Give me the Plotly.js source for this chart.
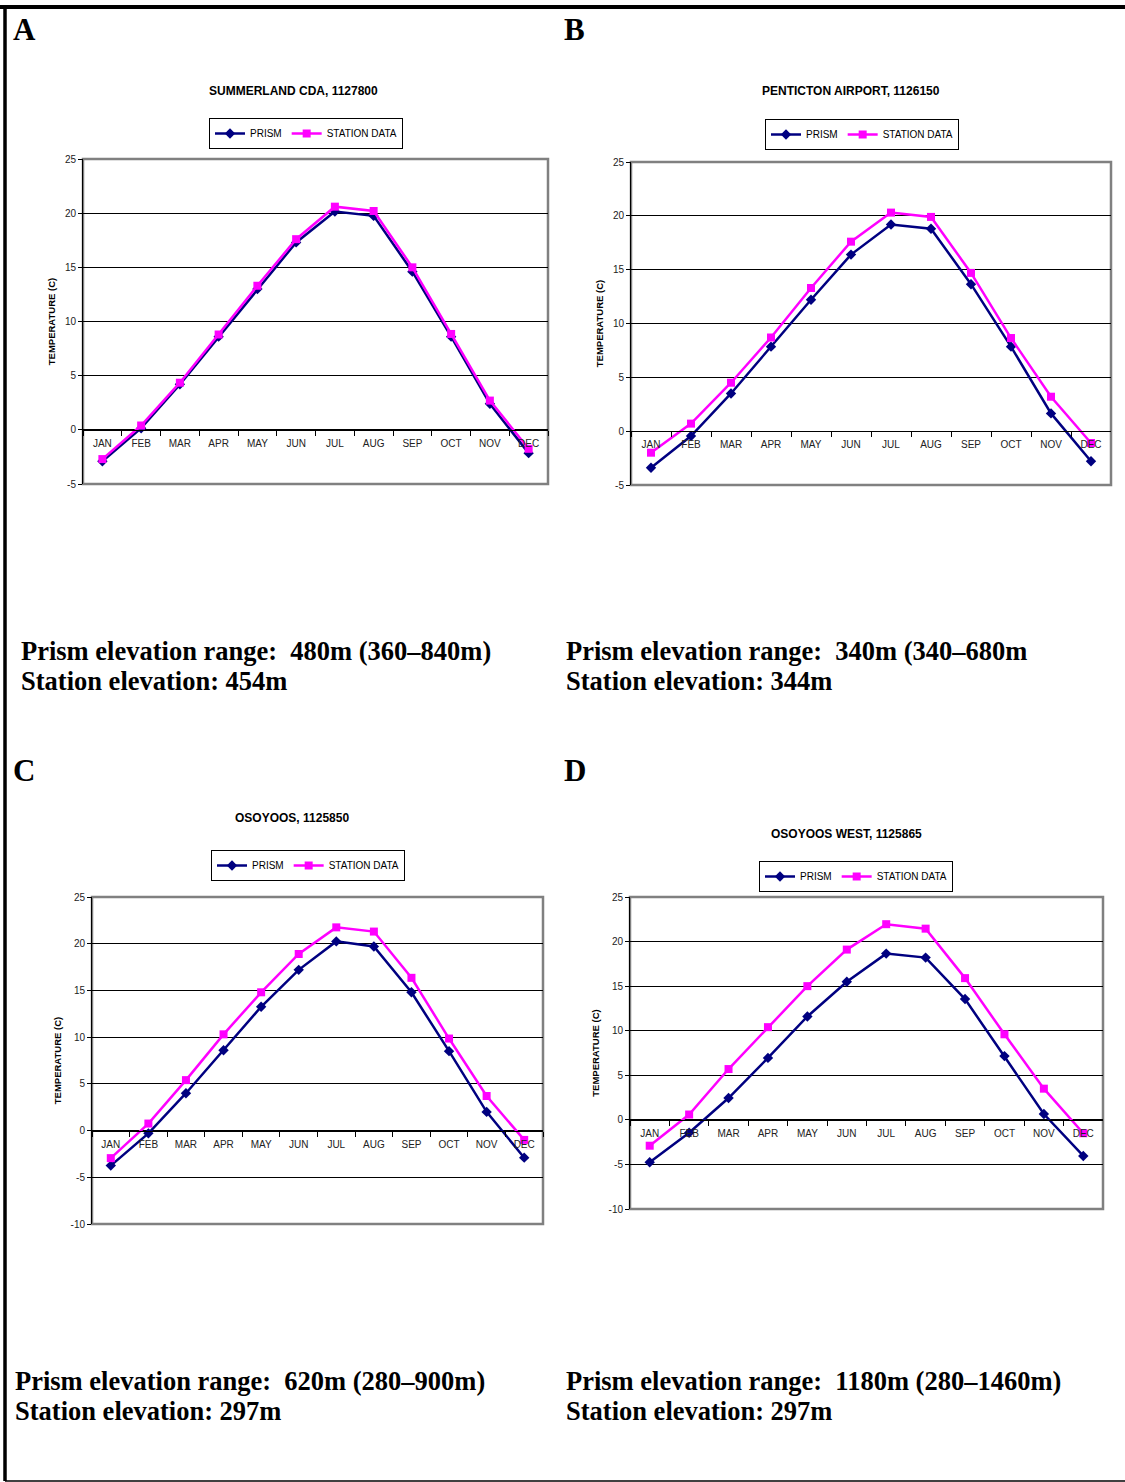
<!DOCTYPE html>
<html>
<head>
<meta charset="utf-8">
<script src="https://cdn.plot.ly/plotly-3.0.1.min.js"></script>
<style>
  html, body { margin: 0; padding: 0; background: #fff; }
  #chart { width: 1125px; height: 1482px; }
</style>
</head>
<body>
<div id="chart"></div>
<script>
// ---------- DATA ----------
const months = ["JAN","FEB","MAR","APR","MAY","JUN","JUL","AUG","SEP","OCT","NOV","DEC"];
const yTicksAB = [-5, 0, 5, 10, 15, 20, 25];
const yTicksCD = [-10, -5, 0, 5, 10, 15, 20, 25];

const titleA = "SUMMERLAND CDA, 1127800";
const prismA   = [-2.9, 0.15, 4.2, 8.6, 13.0, 17.3, 20.15, 19.75, 14.6, 8.6, 2.4, -2.15];
const stationA = [-2.7, 0.4, 4.35, 8.8, 13.3, 17.6, 20.6, 20.2, 15.0, 8.85, 2.7, -1.75];

const titleB = "PENTICTON AIRPORT, 1126150";
const prismB   = [-3.4, -0.45, 3.5, 7.85, 12.2, 16.4, 19.2, 18.8, 13.65, 7.85, 1.65, -2.8];
const stationB = [-2.0, 0.7, 4.5, 8.7, 13.3, 17.6, 20.3, 19.9, 14.7, 8.65, 3.2, -1.1];

const titleC = "OSOYOOS, 1125850";
const prismC   = [-3.75, -0.3, 4.0, 8.6, 13.25, 17.2, 20.25, 19.7, 14.8, 8.5, 2.0, -2.9];
const stationC = [-2.95, 0.75, 5.4, 10.3, 14.8, 18.9, 21.75, 21.3, 16.35, 9.85, 3.7, -1.0];

const titleD = "OSOYOOS WEST, 1125865";
const prismD   = [-4.75, -1.45, 2.45, 6.95, 11.6, 15.5, 18.65, 18.2, 13.55, 7.15, 0.65, -4.05];
const stationD = [-2.9, 0.6, 5.7, 10.4, 15.0, 19.1, 21.95, 21.45, 15.9, 9.6, 3.5, -1.5];

const seriesNames = ["PRISM", "STATION DATA"];
const yAxisTitle = "TEMPERATURE (C)";

const notesA = ["Prism elevation range:\u00a0 480m (360\u2013840m)", "Station elevation: 454m"];
const notesB = ["Prism elevation range:\u00a0 340m (340\u2013680m", "Station elevation: 344m"];
const notesC = ["Prism elevation range:\u00a0 620m (280\u2013900m)", "Station elevation: 297m"];
const notesD = ["Prism elevation range:\u00a0 1180m (280\u20131460m)", "Station elevation: 297m"];

// ---------- LAYOUT HELPERS ----------
const W = 1125, H = 1482;
const fx = p => p / W;
const fy = p => 1 - p / H;

const sans = "Liberation Sans, Arial, sans-serif";
const serif = "Liberation Serif, Times New Roman, serif";
const navy = "#000080";
const magenta = "#FF00FF";

const panels = [
  { letter: "A", title: titleA, prism: prismA, station: stationA, notes: notesA, yr: [-5, 25], yt: yTicksAB,
    box: [83, 548, 159, 484], titleAt: [294, 91], legendAt: [306, 118], letterAt: [11, 29], notesAt: [19, 651] },
  { letter: "B", title: titleB, prism: prismB, station: stationB, notes: notesB, yr: [-5, 25], yt: yTicksAB,
    box: [631, 1111, 162, 485], titleAt: [851, 91], legendAt: [862, 119], letterAt: [562, 29], notesAt: [564, 651] },
  { letter: "C", title: titleC, prism: prismC, station: stationC, notes: notesC, yr: [-10, 25], yt: yTicksCD,
    box: [92, 543, 897, 1224], titleAt: [292, 818], legendAt: [308, 850], letterAt: [11, 770], notesAt: [13, 1381] },
  { letter: "D", title: titleD, prism: prismD, station: stationD, notes: notesD, yr: [-10, 25], yt: yTicksCD,
    box: [630, 1103, 897, 1209], titleAt: [846, 834], legendAt: [856, 861], letterAt: [562, 770], notesAt: [564, 1381] }
];

const traces = [];
const layout = {
  width: W, height: H,
  margin: { l: 0, r: 0, t: 0, b: 0 },
  paper_bgcolor: "#fff", plot_bgcolor: "#fff",
  font: { family: sans, color: "#000", size: 10 },
  annotations: [], shapes: []
};

panels.forEach((p, i) => {
  const n = i + 1;
  const xa = n === 1 ? "x" : "x" + n;
  const ya = n === 1 ? "y" : "y" + n;
  const xKey = n === 1 ? "xaxis" : "xaxis" + n;
  const yKey = n === 1 ? "yaxis" : "yaxis" + n;
  const lgKey = n === 1 ? "legend" : "legend" + n;

  const xd = [fx(p.box[0]), fx(p.box[1])];
  const yd = [fy(p.box[3]), fy(p.box[2])];
  const zeroPos = yd[0] + (0 - p.yr[0]) / (p.yr[1] - p.yr[0]) * (yd[1] - yd[0]);

  traces.push({
    type: "scatter", mode: "lines+markers", name: seriesNames[0],
    x: months, y: p.prism, xaxis: xa, yaxis: ya, legend: lgKey,
    line: { color: navy, width: 2.5 },
    marker: { symbol: "diamond", size: 8, color: navy }
  });
  traces.push({
    type: "scatter", mode: "lines+markers", name: seriesNames[1],
    x: months, y: p.station, xaxis: xa, yaxis: ya, legend: lgKey,
    line: { color: magenta, width: 2.5 },
    marker: { symbol: "square", size: 8, color: magenta }
  });

  layout[xKey] = {
    domain: xd, anchor: "free", position: zeroPos,
    type: "category", categoryorder: "array", categoryarray: months,
    range: [-0.5, months.length - 0.5],
    showgrid: false, zeroline: false,
    showline: true, linecolor: "#000", linewidth: 1,
    ticks: "outside", tickson: "boundaries", ticklen: 5, tickcolor: "#000",
    ticklabelstandoff: 4,
    tickfont: { family: sans, size: 10, color: "#222" },
    fixedrange: true
  };
  layout[yKey] = {
    domain: yd, anchor: xa, range: p.yr,
    tickmode: "array", tickvals: p.yt, ticktext: p.yt.map(v => String(v)),
    showgrid: true, gridcolor: "#000", gridwidth: 1,
    zeroline: false, showline: true, linecolor: "#000", linewidth: 1,
    ticks: "outside", ticklen: 4, tickcolor: "#000",
    tickfont: { family: sans, size: 10, color: "#222" },
    title: { text: yAxisTitle, font: { family: sans, size: 9.5, color: "#000", weight: "bold" }, standoff: 7 },
    fixedrange: true
  };
  layout[lgKey] = {
    orientation: "h", x: fx(p.legendAt[0]), y: fy(p.legendAt[1]),
    xanchor: "center", yanchor: "top",
    bgcolor: "#fff", bordercolor: "#000", borderwidth: 1,
    font: { family: sans, size: 10, color: "#000" },
    itemclick: false, itemdoubleclick: false,
    tracegroupgap: 0, itemwidth: 30
  };

  // plot-area frame (grey on top/right/bottom)
  layout.shapes.push({
    type: "rect", xref: xa + " domain", yref: ya + " domain",
    x0: 0, x1: 1, y0: 0, y1: 1, layer: "below",
    line: { color: "#808080", width: 2.5 }
  });

  // chart title
  layout.annotations.push({
    text: "<b>" + p.title + "</b>", xref: "paper", yref: "paper",
    x: fx(p.titleAt[0]), y: fy(p.titleAt[1]), xanchor: "center", yanchor: "middle",
    showarrow: false, font: { family: sans, size: 12, color: "#000" }
  });
  // panel letter
  layout.annotations.push({
    text: "<b>" + p.letter + "</b>", xref: "paper", yref: "paper",
    x: fx(p.letterAt[0]), y: fy(p.letterAt[1]), xanchor: "left", yanchor: "middle",
    showarrow: false, font: { family: serif, size: 31, color: "#000" }
  });
  // notes below chart
  p.notes.forEach((t, k) => {
    layout.annotations.push({
      text: "<b>" + t + "</b>", xref: "paper", yref: "paper",
      x: fx(p.notesAt[0]), y: fy(p.notesAt[1] + 30 * k), xanchor: "left", yanchor: "middle",
      showarrow: false, font: { family: serif, size: 26.5, color: "#000" }
    });
  });
});

// page border lines (top, left, bottom)
layout.shapes.push({ type: "line", xref: "paper", yref: "paper", x0: 0, x1: 1, y0: fy(7), y1: fy(7), line: { color: "#000", width: 4 } });
layout.shapes.push({ type: "line", xref: "paper", yref: "paper", x0: fx(5), x1: fx(5), y0: fy(1481), y1: fy(5), line: { color: "#000", width: 3.5 } });
layout.shapes.push({ type: "line", xref: "paper", yref: "paper", x0: fx(5), x1: 1, y0: fy(1481), y1: fy(1481), line: { color: "#000", width: 1.5 } });

Plotly.newPlot("chart", traces, layout, { staticPlot: true, displayModeBar: false });
</script>
</body>
</html>
